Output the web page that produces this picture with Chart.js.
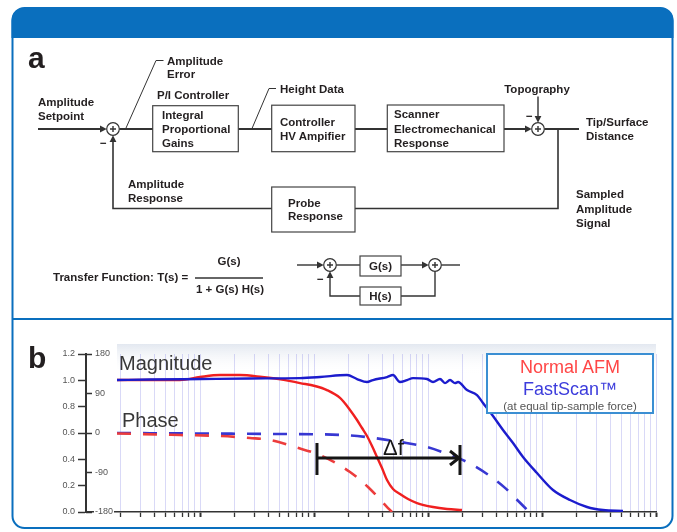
<!DOCTYPE html>
<html>
<head>
<meta charset="utf-8">
<script src="https://cdn.jsdelivr.net/npm/chart.js@4.4.1/dist/chart.umd.min.js"></script>
<style>
html,body{margin:0;padding:0;background:#fff;width:677px;height:532px;overflow:hidden;}
#panel,#overlay{position:absolute;left:0;top:0;}
#chartWrap{position:absolute;left:0;top:330px;width:677px;height:202px;}
#overlay{pointer-events:none;}
</style>
</head>
<body>
<svg id="panel" width="677" height="532" xmlns="http://www.w3.org/2000/svg">
  <rect x="12.5" y="8" width="660" height="520" rx="12" ry="12" fill="#fff" stroke="#0a6fbe" stroke-width="2"/>
  <path d="M11.5,38 V21 A13,13 0 0 1 24.5,8 H660.5 A13,13 0 0 1 673.5,21 V38 Z" fill="#0a6fbe"/>
  <line x1="12" y1="319" x2="673" y2="319" stroke="#0a6fbe" stroke-width="2"/>
</svg>

<div id="chartWrap"><canvas id="c" width="677" height="202"></canvas></div>

<svg id="overlay" width="677" height="532" xmlns="http://www.w3.org/2000/svg">
 <g stroke="#333" fill="none" stroke-linecap="butt">
  <!-- main path -->
  <line x1="38" y1="129" x2="101" y2="129" stroke-width="2"/>
  <line x1="119.3" y1="129" x2="153" y2="129" stroke-width="2"/>
  <line x1="238.3" y1="129" x2="272" y2="129" stroke-width="2"/>
  <line x1="355" y1="129" x2="387.3" y2="129" stroke-width="2"/>
  <line x1="504" y1="129" x2="526" y2="129" stroke-width="2"/>
  <line x1="544.3" y1="129" x2="579" y2="129" stroke-width="2"/>
  <!-- feedback -->
  <polyline points="558,129 558,208.5 355,208.5" stroke-width="1.6"/>
  <polyline points="272,208.5 113,208.5 113,141" stroke-width="1.6"/>
  <line x1="538" y1="96.5" x2="538" y2="117" stroke-width="1.4"/>
  <!-- leaders -->
  <polyline points="126,128 156,60.5 163.5,60.5" stroke-width="1"/>
  <polyline points="252,128.5 269,88.5 276,88.5" stroke-width="1"/>
  <!-- boxes -->
  <rect x="152.7" y="105.7" width="85.6" height="46" stroke="#444" stroke-width="1.2"/>
  <rect x="271.7" y="105.2" width="83.3" height="46.5" stroke="#444" stroke-width="1.2"/>
  <rect x="387.3" y="105" width="116.7" height="46.7" stroke="#444" stroke-width="1.2"/>
  <rect x="271.7" y="187" width="83.3" height="45" stroke="#444" stroke-width="1.2"/>
  <!-- transfer fraction -->
  <line x1="195" y1="278" x2="263" y2="278" stroke-width="1.3"/>
  <!-- small loop -->
  <line x1="297" y1="265" x2="318" y2="265" stroke-width="1.4"/>
  <line x1="336.3" y1="265" x2="360" y2="265" stroke-width="1.4"/>
  <line x1="401" y1="265" x2="423" y2="265" stroke-width="1.4"/>
  <line x1="441.3" y1="265" x2="460" y2="265" stroke-width="1.4"/>
  <polyline points="435,271.3 435,296 401,296" stroke-width="1.4"/>
  <polyline points="360,296 330,296 330,277" stroke-width="1.4"/>
  <rect x="360" y="256" width="41" height="20" stroke="#444" stroke-width="1.2"/>
  <rect x="360" y="287" width="41" height="18" stroke="#444" stroke-width="1.2"/>
  <!-- circles -->
  <circle cx="113" cy="129" r="6.3" fill="#fff" stroke-width="1.2"/>
  <circle cx="538" cy="129" r="6.3" fill="#fff" stroke-width="1.2"/>
  <circle cx="330" cy="265" r="6.3" fill="#fff" stroke-width="1.2"/>
  <circle cx="435" cy="265" r="6.3" fill="#fff" stroke-width="1.2"/>
  <path d="M110,129 H116 M113,126 V132 M535,129 H541 M538,126 V132 M327,265 H333 M330,262 V268 M432,265 H438 M435,262 V268" stroke-width="1.4"/>
 </g>
 <g fill="#333" stroke="none">
  <polygon points="100,125.6 106.7,129 100,132.4"/>
  <polygon points="109.6,142 113,135.3 116.4,142"/>
  <polygon points="525,125.6 531.7,129 525,132.4"/>
  <polygon points="534.6,116 538,122.7 541.4,116"/>
  <polygon points="317,261.6 323.7,265 317,268.4"/>
  <polygon points="326.6,278 330,271.3 333.4,278"/>
  <polygon points="422,261.6 428.7,265 422,268.4"/>
 </g>
 <g font-family="'Liberation Sans', Arial, Helvetica, sans-serif" font-weight="bold" font-size="11.5" fill="#231f20">
  <text x="28" y="68" font-size="30">a</text>
  <text x="38" y="106">Amplitude</text>
  <text x="38" y="120">Setpoint</text>
  <text x="100" y="146.5">−</text>
  <text x="167" y="65">Amplitude</text>
  <text x="167" y="78">Error</text>
  <text x="157" y="99">P/I Controller</text>
  <text x="162" y="119.3">Integral</text>
  <text x="162" y="133.3">Proportional</text>
  <text x="162" y="147.3">Gains</text>
  <text x="280" y="93">Height Data</text>
  <text x="280" y="126">Controller</text>
  <text x="280" y="140">HV Ampifier</text>
  <text x="394" y="118.3">Scanner</text>
  <text x="394" y="132.7">Electromechanical</text>
  <text x="394" y="146.7">Response</text>
  <text x="537" y="93.3" text-anchor="middle">Topography</text>
  <text x="526" y="119.5">−</text>
  <text x="586" y="126">Tip/Surface</text>
  <text x="586" y="140">Distance</text>
  <text x="128" y="188.3">Amplitude</text>
  <text x="128" y="202.3">Response</text>
  <text x="288" y="206.7">Probe</text>
  <text x="288" y="220.3">Response</text>
  <text x="576" y="198.3">Sampled</text>
  <text x="576" y="212.7">Amplitude</text>
  <text x="576" y="226.7">Signal</text>
  <text x="53" y="281">Transfer Function: T(s) =</text>
  <text x="229" y="265" text-anchor="middle">G(s)</text>
  <text x="230" y="292.5" text-anchor="middle">1 + G(s) H(s)</text>
  <text x="380.5" y="269.5" text-anchor="middle">G(s)</text>
  <text x="380.5" y="300.3" text-anchor="middle">H(s)</text>
  <text x="317" y="283">−</text>
  <text x="28" y="368" font-size="30">b</text>
 </g>
 <g font-family="'Liberation Sans', Arial, Helvetica, sans-serif" fill="#383838">
  <text x="119" y="370" font-size="20">Magnitude</text>
  <text x="122" y="427" font-size="20">Phase</text>
  <text x="383" y="455" font-size="22" fill="#151515">Δf</text>
  <rect x="487" y="354" width="166" height="59" fill="#fff" stroke="#3b8fd3" stroke-width="2"/>
  <text x="570" y="373" text-anchor="middle" font-size="18" fill="#ff4646">Normal AFM</text>
  <text x="570" y="395" text-anchor="middle" font-size="18" fill="#3c3cdc">FastScan™</text>
  <text x="570" y="410" text-anchor="middle" font-size="11.5" fill="#555">(at equal tip-sample force)</text>
 </g>
</svg>

<script>
// ---- data (frequency in arbitrary Hz units on a log axis) ----
const blueMagFreq = [18.7, 36.4, 100, 274, 754, 1129, 1948, 2384, 2917, 3292, 4369, 4932, 5680, 6542, 7387, 9800, 11066, 12743, 14098, 15600, 17255, 18335, 21990, 26900, 30380, 37170, 45500, 55680, 68130, 90390, 124900, 176100, 248100, 342800, 513400];
const blueMag     = [1.002, 1.006, 1.010, 1.014, 1.017, 1.025, 1.040, 1.010, 0.987, 1.002, 1.025, 1.040, 0.987, 1.002, 1.017, 1.010, 0.987, 1.010, 0.979, 1.002, 0.979, 0.987, 0.926, 0.888, 0.828, 0.729, 0.623, 0.524, 0.418, 0.296, 0.167, 0.091, 0.038, 0.015, 0.008];

const redMagFreq = [18.7, 66.8, 100, 149.8, 224, 350, 558, 754, 1018, 1300, 1691, 2069, 2384, 2637, 2917, 3228, 3569, 3949, 4369, 4932, 5680, 6677, 8008, 11066, 14678, 19870];
const redMag     = [1.002, 1.002, 1.025, 1.040, 1.040, 1.025, 1.002, 0.979, 0.957, 0.926, 0.866, 0.775, 0.699, 0.638, 0.577, 0.501, 0.418, 0.334, 0.243, 0.175, 0.137, 0.099, 0.068, 0.038, 0.023, 0.015];

const redPhaseFreq = [18.7, 66.8, 150, 274, 411, 681, 1175, 2069, 2977, 4458, 4831];
const redPhase     = [-1, -4.6, -6.8, -11.4, -15.9, -31.9, -52.4, -88.9, -123, -171, -180];

const bluePhaseFreq = [18.7, 100, 503, 1797, 3099, 5680, 9800, 15600, 21990, 34990, 47360, 60360, 73870, 76900];
const bluePhase     = [0, -1.1, -2.3, -4.6, -10.3, -20.5, -31.9, -50.1, -66.1, -98, -125, -152, -175, -180];

const magTicks = [0, 0.2, 0.4, 0.6, 0.8, 1.0, 1.2];
const phaseTicks = [-180, -90, 0, 90, 180];
const tickMantissas = [1, 2, 3, 4, 5, 6, 7, 8, 9];
const tickDecades = [10, 100, 1000, 10000, 100000, 1000000];
const xTickValues = tickDecades.flatMap(d => tickMantissas.map(m => ({value: m * d, major: m === 1})))
  .filter(t => t.value >= 20 && t.value <= 1000000);

const deltaFStart = 1062, deltaFEnd = 19085, deltaFLevel = 0.41;

const pts = (xs, ys) => xs.map((x, i) => ({x, y: ys[i]}));

const plotBackground = {
  id: 'plotBackground',
  beforeDraw(chart) {
    const {ctx, chartArea, scales} = chart;
    const left = scales.x.getPixelForValue(blueMagFreq[0]);
    const top = chartArea.top - 10;
    const g = ctx.createLinearGradient(0, top, 0, top + 30);
    g.addColorStop(0, '#e3e8f0');
    g.addColorStop(1, 'rgba(255,255,255,0)');
    ctx.save();
    ctx.fillStyle = g;
    ctx.fillRect(left, top, chartArea.right - left, 30);
    ctx.restore();
  }
};

const deltaArrow = {
  id: 'deltaArrow',
  afterDatasetsDraw(chart) {
    const {ctx, scales} = chart;
    const x1 = scales.x.getPixelForValue(deltaFStart);
    const x2 = scales.x.getPixelForValue(deltaFEnd);
    const y = scales.mag.getPixelForValue(deltaFLevel);
    ctx.save();
    ctx.strokeStyle = '#151515';
    ctx.lineWidth = 3;
    ctx.beginPath();
    ctx.moveTo(x1, y); ctx.lineTo(x2 - 1, y);
    ctx.moveTo(x1, y - 15); ctx.lineTo(x1, y + 17);
    ctx.moveTo(x2, y - 13); ctx.lineTo(x2, y + 17);
    ctx.stroke();
    ctx.beginPath();
    ctx.moveTo(x2 - 10, y - 7); ctx.lineTo(x2 - 1, y); ctx.lineTo(x2 - 10, y + 7);
    ctx.stroke();
    ctx.restore();
  }
};

const tickFont = {family: "'Liberation Sans', Arial, sans-serif", size: 9};

new Chart(document.getElementById('c'), {
  type: 'line',
  data: {
    datasets: [
      {label: 'FastScan magnitude', data: pts(blueMagFreq, blueMag), yAxisID: 'mag',
       borderColor: 'rgb(28,28,205)', borderWidth: 2.4, pointRadius: 0, cubicInterpolationMode: 'monotone'},
      {label: 'Normal AFM phase', data: pts(redPhaseFreq, redPhase), yAxisID: 'phase',
       borderColor: 'rgb(236,60,60)', borderWidth: 2.6, borderDash: [14, 12], pointRadius: 0, cubicInterpolationMode: 'monotone'},
      {label: 'FastScan phase', data: pts(bluePhaseFreq, bluePhase), yAxisID: 'phase',
       borderColor: 'rgb(55,55,210)', borderWidth: 2.6, borderDash: [14, 12], pointRadius: 0, cubicInterpolationMode: 'monotone'},
      {label: 'Normal AFM magnitude', data: pts(redMagFreq, redMag), yAxisID: 'mag',
       borderColor: 'rgb(240,32,32)', borderWidth: 2.4, pointRadius: 0, cubicInterpolationMode: 'monotone'}
    ]
  },
  options: {
    responsive: false,
    animation: false,
    events: [],
    layout: {padding: {top: 24, right: 21, bottom: 0, left: 0}},
    plugins: {legend: {display: false}, tooltip: {enabled: false}},
    scales: {
      x: {
        type: 'logarithmic', position: 'bottom', min: 10, max: 1000000,
        afterBuildTicks: s => { s.ticks = xTickValues.map(t => ({value: t.value, major: t.major})); },
        afterFit: s => { s.height = 20; },
        ticks: {display: false},
        grid: {color: 'rgba(120,120,225,0.28)', lineWidth: 1, tickLength: 5, tickColor: '#333',
               tickWidth: ctx => (ctx.tick && ctx.tick.major) ? 2 : 1.3},
        border: {display: true, color: '#333', width: 1.6}
      },
      mag: {
        type: 'linear', position: 'left', min: 0, max: 1.2, weight: 1,
        afterBuildTicks: s => { s.ticks = magTicks.map(v => ({value: v})); },
        afterFit: s => { s.width = 86; },
        ticks: {callback: v => Number(v).toFixed(1), font: tickFont, color: '#555', padding: 3},
        grid: {drawOnChartArea: false, tickLength: 8, tickColor: '#333', tickWidth: 1.5},
        border: {display: true, color: '#333', width: 2}
      },
      phase: {
        type: 'linear', position: 'left', min: -180, max: 180, weight: 0,
        afterBuildTicks: s => { s.ticks = phaseTicks.map(v => ({value: v})); },
        afterFit: s => { s.width = 0; },
        ticks: {mirror: true, padding: 9, callback: v => String(v), font: tickFont, color: '#555',
                z: 1, showLabelBackdrop: true, backdropColor: '#fff', backdropPadding: 1},
        grid: {drawOnChartArea: false, tickLength: -6, tickColor: '#333', tickWidth: 1.5},
        border: {display: false}
      }
    }
  },
  plugins: [plotBackground, deltaArrow]
});
</script>
</body>
</html>
